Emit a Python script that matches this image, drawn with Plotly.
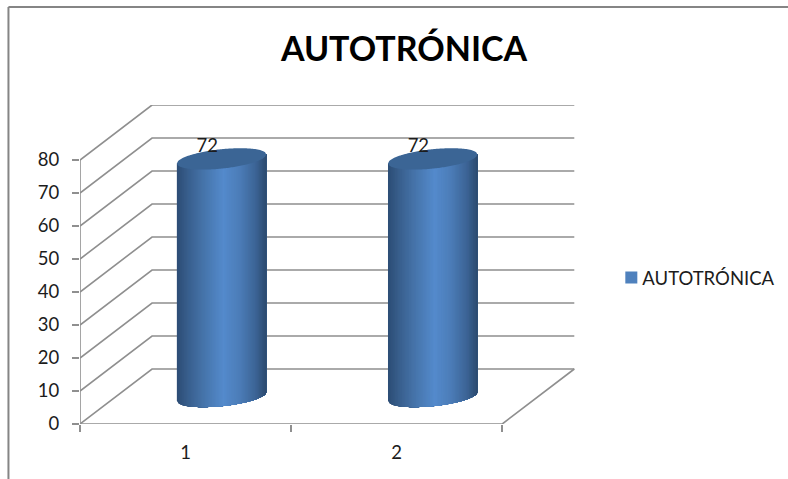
import plotly.graph_objects as go

# ---- data ----
categories = ["1", "2"]
values = [72, 72]
series_name = "AUTOTRÓNICA"
y_ticks = [0, 10, 20, 30, 40, 50, 60, 70, 80]

# ---- layout geometry ----
W, H = 788, 479
L, R, T, B = 80, 575.7, 105, 424
PX_X = 211.0   # pixels per category
PX_Y = 3.3     # pixels per value unit
DEPTH_X = 72 / PX_X
DEPTH_Y = 55 / PX_Y
A = 44.7 / PX_X      # cylinder half width
E_B = 9.7 / PX_Y     # ellipse minor part
E_S = 4.5 / PX_Y     # ellipse tilt
GRID = "#8f8f8f"
TXT = "#1c1c1c"
FONT = "Lato, Carlito, Calibri, sans-serif"
TICK_SIZE = 18.5

stops = [(0.0, (44, 76, 116)), (0.12, (56, 94, 140)), (0.3, (70, 116, 170)),
         (0.52, (84, 138, 204)), (0.7, (76, 125, 184)), (0.88, (60, 100, 150)), (1.0, (44, 74, 110))]


def shade(t):
    for (t0, c0), (t1, c1) in zip(stops, stops[1:]):
        if t <= t1:
            f = (t - t0) / (t1 - t0)
            return "rgb(%d,%d,%d)" % tuple(round(a + (b - a) * f) for a, b in zip(c0, c1))
    return "rgb(%d,%d,%d)" % stops[-1][1]


fig = go.Figure()
centres = [i + 0.5 for i in range(len(categories))]

# real bars: they carry the values and the legend entry; strips below shade them
fig.add_trace(go.Bar(x=[c + DEPTH_X / 2 for c in centres], y=values, base=DEPTH_Y / 2,
                     width=1.4 * A, marker=dict(color="#4F81BD", line_width=0),
                     name=series_name, showlegend=True, hoverinfo="skip"))

# gridlines: side wall and back wall
gx, gy = [], []
for v in y_ticks:
    gx += [0, DEPTH_X, 2 + DEPTH_X, None]
    gy += [v, v + DEPTH_Y, v + DEPTH_Y, None]
fig.add_trace(go.Scatter(x=gx, y=gy, mode="lines", line=dict(color=GRID, width=1.6),
                         showlegend=False, hoverinfo="skip", cliponaxis=False))
# axis lines and the floor's right edge
fig.add_trace(go.Scatter(x=[0, 0, None, 0, 2, 2 + DEPTH_X], y=[0, y_ticks[-1], None, 0, 0, DEPTH_Y],
                         mode="lines", line=dict(color=GRID, width=1.6),
                         showlegend=False, hoverinfo="skip", cliponaxis=False))

# shaded cylinder sides: painted left to right, each strip reaching the right edge
N = 64
S = 48
for k in range(N):
    u0 = -1 + 2 * k / N
    xs, ys = [], []
    for c, v in zip(centres, values):
        cx = c + DEPTH_X / 2
        y0 = DEPTH_Y / 2
        y1 = y0 + v
        for j in range(S + 1):
            u = u0 + (1 - u0) * j / S
            xs.append(cx + A * u)
            ys.append(y0 + E_S * u - E_B * max(0, 1 - u * u) ** 0.5)
        for u in (1, u0):
            xs.append(cx + A * u)
            ys.append(y1 + E_S * u)
        xs.append(None)
        ys.append(None)
    col = shade((k + 0.5) / N)
    fig.add_trace(go.Scatter(x=xs, y=ys, mode="none", fill="toself", fillcolor=col,
                             showlegend=False, hoverinfo="skip"))

# top ellipses
M = 72
xs, ys = [], []
for c, v in zip(centres, values):
    cx = c + DEPTH_X / 2
    y1 = DEPTH_Y / 2 + v
    for j in range(M + 1):
        u = -1 + 2 * j / M
        xs.append(cx + A * u)
        ys.append(y1 + E_S * u + E_B * (1 - u * u) ** 0.5)
    for j in range(M + 1):
        u = 1 - 2 * j / M
        xs.append(cx + A * u)
        ys.append(y1 + E_S * u - E_B * (1 - u * u) ** 0.5)
    xs.append(None)
    ys.append(None)
fig.add_trace(go.Scatter(x=xs, y=ys, mode="none", fill="toself", fillcolor="#3B6595",
                         showlegend=False, hoverinfo="skip"))

# data labels
fig.add_trace(go.Scatter(x=[c + DEPTH_X / 2 - 0.068 for c in centres],
                         y=[v + DEPTH_Y / 2 + 3.6 for v in values],
                         text=[str(v) for v in values], mode="text",
                         textfont=dict(family=FONT, size=TICK_SIZE, color=TXT),
                         showlegend=False, hoverinfo="skip", cliponaxis=False))


def paper_x(px):
    return (px - L) / (R - L)


def paper_y(py):
    return (B - py) / (B - T)


frame = dict(type="line", xref="paper", yref="paper", line=dict(color="#858585", width=2), layer="below")
fig.update_layout(
    width=W, height=H, margin=dict(l=L, r=W - R, t=T, b=H - B, autoexpand=False),
    paper_bgcolor="white", plot_bgcolor="rgba(0,0,0,0)", bargap=0,
    font=dict(family=FONT, size=TICK_SIZE, color=TXT),
    title=dict(text="<b>AUTOTRÓNICA</b>", x=404 / W, xanchor="center", y=1 - 49 / H, yanchor="middle",
               font=dict(family=FONT, size=34, color="black")),
    xaxis=dict(range=[0, (R - L) / PX_X], tickvals=centres, ticktext=categories, ticks="",
               showgrid=False, zeroline=False, showline=False, ticklabelstandoff=15,
               tickfont=dict(family=FONT, size=TICK_SIZE, color=TXT),
               minor=dict(tickvals=[0, 1, 2], ticks="outside", ticklen=7, tickwidth=1.6, tickcolor=GRID, showgrid=False)),
    yaxis=dict(range=[0, (B - T) / PX_Y], tickvals=y_ticks, ticks="outside", ticklen=7, tickwidth=1.6,
               tickcolor=GRID, showgrid=False, zeroline=False, showline=False, ticklabelstandoff=9,
               tickfont=dict(family=FONT, size=TICK_SIZE, color=TXT)),
    legend=dict(x=paper_x(611), xanchor="left", y=paper_y(278), yanchor="middle",
                font=dict(family=FONT, size=TICK_SIZE, color=TXT), bgcolor="rgba(0,0,0,0)"),
    shapes=[
        dict(frame, x0=paper_x(8.5), x1=paper_x(8.5), y0=paper_y(7), y1=paper_y(479)),
        dict(frame, x0=paper_x(8.5), x1=paper_x(788), y0=paper_y(7), y1=paper_y(7)),
    ],
)

fig.write_html("out.html",
               post_script="document.body.style.margin='0';document.documentElement.style.overflow='hidden';"
                           "document.querySelectorAll('.legendtext').forEach(function(t){t.setAttribute('x','31');});",
               config={"displayModeBar": False})
